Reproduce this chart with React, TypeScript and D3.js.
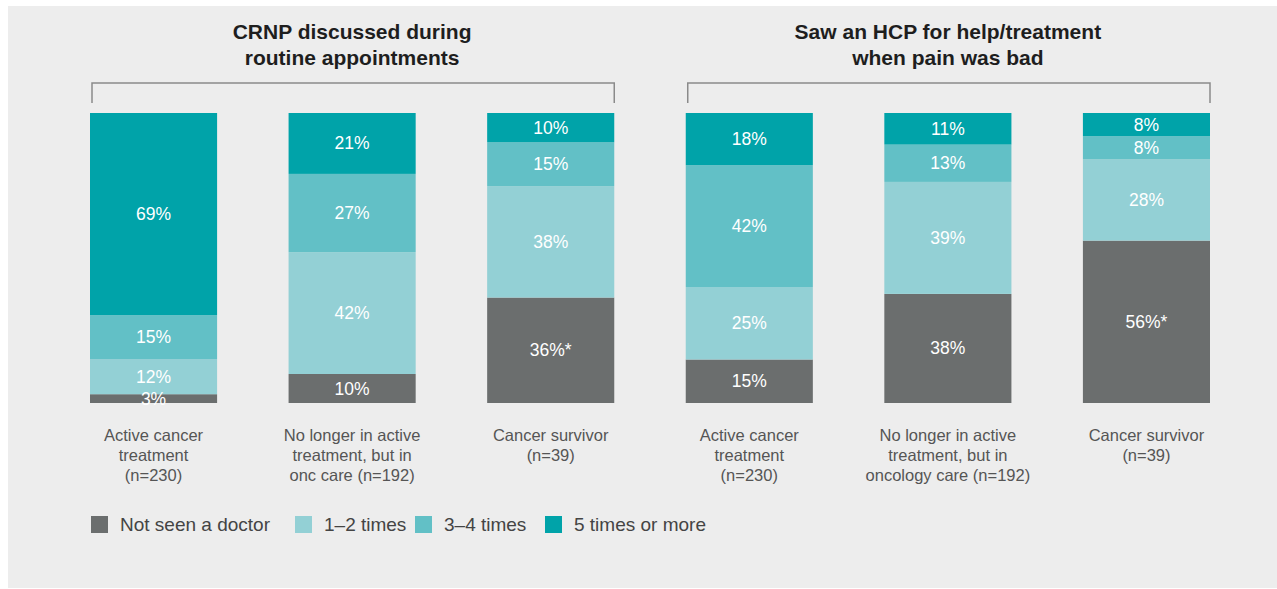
import React from "react";
import * as d3 from "d3";

const groupTitles = [
  ["CRNP discussed during", "routine appointments"],
  ["Saw an HCP for help/treatment", "when pain was bad"],
];
const categoryLabels = [
  ["Active cancer", "treatment", "(n=230)"],
  ["No longer in active", "treatment, but in", "onc care (n=192)"],
  ["Cancer survivor", "(n=39)"],
  ["Active cancer", "treatment", "(n=230)"],
  ["No longer in active", "treatment, but in", "oncology care (n=192)"],
  ["Cancer survivor", "(n=39)"],
];
const seriesNames = ["Not seen a doctor", "1–2 times", "3–4 times", "5 times or more"];
const notSeen = [3, 10, 36, 15, 38, 56];
const times12 = [12, 42, 38, 25, 39, 28];
const times34 = [15, 27, 15, 42, 13, 8];
const times5 = [69, 21, 10, 18, 11, 8];
const flagged = [false, false, true, false, false, true];

const colors = ["#6b6e6e", "#93d0d5", "#62c0c6", "#00a3a9"];
const FONT = "'Liberation Sans', Arial, Helvetica, sans-serif";

export default function App() {
  const W = 1277, H = 589;
  const ids = categoryLabels.map((_, i) => String(i));
  const x = d3.scaleBand().domain(ids).range([90, 1210]).paddingInner(0.36).paddingOuter(0);
  const series = [notSeen, times12, times34, times5];
  const top = 113, bottom = 403;

  const bars = ids.map((id, i) => {
    const vals = series.map((s) => s[i]);
    const total = d3.sum(vals);
    const y = d3.scaleLinear().domain([0, total]).range([bottom, top]);
    let acc = 0;
    const segs = vals.map((v, k) => {
      const y0 = y(acc), y1 = y(acc + v);
      acc += v;
      return { k, v, y0, y1 };
    });
    return { id, i, segs };
  });

  const groups = [
    { ids: ["0", "1", "2"], title: groupTitles[0] },
    { ids: ["3", "4", "5"], title: groupTitles[1] },
  ];

  const legendX = [91, 295, 415, 545];

  return (
    <svg width={W} height={H} style={{ position: "absolute", left: 0, top: 0, fontFamily: FONT }}>
      <rect x={0} y={0} width={W} height={H} fill="#ffffff" />
      <rect x={8} y={6} width={W - 8} height={582} fill="#ededed" />
      {groups.map((g, gi) => {
        const x0 = x(g.ids[0])! + 2;
        const x1 = x(g.ids[2])! + x.bandwidth();
        const cx = (x(g.ids[0])! + x1) / 2;
        return (
          <g key={gi}>
            {g.title.map((t, li) => (
              <text key={li} x={cx} y={39 + li * 26} textAnchor="middle" fontSize={21} fontWeight="bold" fill="#1e1e1e">
                {t}
              </text>
            ))}
            <path d={`M${x0},103V83H${x1}V103`} fill="none" stroke="#8a8a8a" strokeWidth={1.5} />
          </g>
        );
      })}
      {bars.map((b) => (
        <g key={b.id}>
          {b.segs.map((s) => (
            <rect key={s.k} x={x(b.id)} y={s.y1} width={x.bandwidth()} height={s.y0 - s.y1} fill={colors[s.k]} />
          ))}
          {b.segs.map((s) => (
            <text
              key={"t" + s.k}
              x={x(b.id)! + x.bandwidth() / 2}
              y={(s.y0 + s.y1) / 2 + 6}
              textAnchor="middle"
              fontSize={17.5}
              fill="#ffffff"
            >
              {s.v + "%" + (s.k === 0 && flagged[b.i] ? "*" : "")}
            </text>
          ))}
          {categoryLabels[b.i].map((t, li) => (
            <text key={"c" + li} x={x(b.id)! + x.bandwidth() / 2} y={441 + li * 20} textAnchor="middle" fontSize={16.5} fill="#555555">
              {t}
            </text>
          ))}
        </g>
      ))}
      {seriesNames.map((n, k) => (
        <g key={n}>
          <rect x={legendX[k]} y={516} width={17} height={17} fill={colors[k]} />
          <text x={legendX[k] + 29} y={531} fontSize={19} fill="#444444">
            {n}
          </text>
        </g>
      ))}
    </svg>
  );
}
